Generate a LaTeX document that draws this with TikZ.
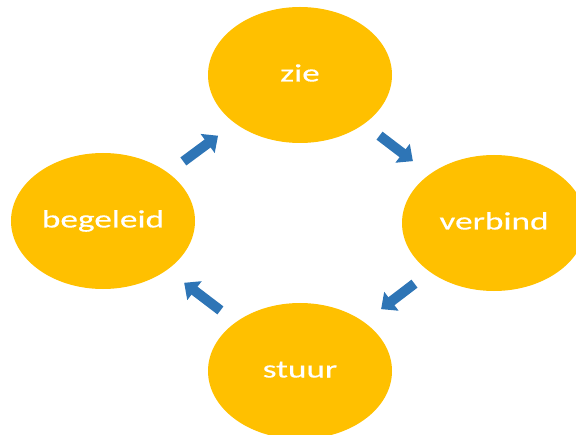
\documentclass[tikz,border=0pt]{standalone}
\usepackage{fontspec}
\setmainfont{Carlito}
\newfontfamily\labelfont[FakeBold=0.3]{Carlito}
\usetikzlibrary{shapes.geometric,arrows.meta}
\definecolor{gold}{HTML}{FFC000}
\definecolor{arrowblue}{HTML}{2E75B6}
\newcommand{\wide}[1]{\scalebox{1.41}[1]{#1}}
\begin{document}
\begin{tikzpicture}[x=1bp,y=-1bp,
  stage/.style={ellipse, fill=gold, minimum width=184bp, minimum height=136bp,
    inner sep=0pt, text=white, text height=13bp, text depth=0pt,
    font=\labelfont\fontsize{25bp}{29bp}\selectfont},
  flow/.style={draw=arrowblue, line width=10bp,
    -{Triangle[length=13bp,width=23bp]}, shorten <=100bp, shorten >=102bp}]
\useasboundingbox (0,0) rectangle (576,435);
\clip (0,0) rectangle (576,435);
\node[stage] (z) at (300,75) {\wide{zie}};
\node[stage] (v) at (494,223) {\wide{verbind}};
\node[stage] (s) at (300,371) {\wide{stuur}};
\node[stage] (b) at (103,221) {\wide{begeleid}};
\draw[flow] (b.center) -- (z.center);
\draw[flow] (z.center) -- (v.center);
\draw[flow] (v.center) -- (s.center);
\draw[flow] (s.center) -- (b.center);
\end{tikzpicture}
\end{document}
